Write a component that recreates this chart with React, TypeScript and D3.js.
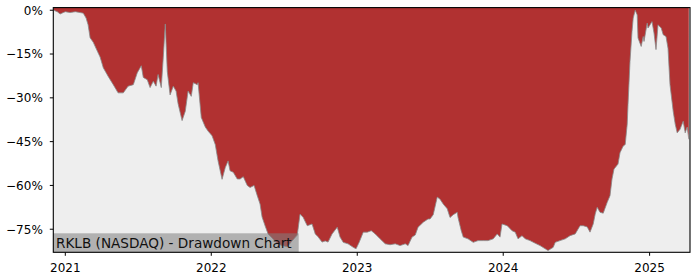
import React from "react";
import * as d3 from "d3";

const title = "RKLB (NASDAQ) - Drawdown Chart";

const dates = [
  "2020-12-03","2020-12-12","2020-12-19","2020-12-27","2021-01-01","2021-01-13","2021-01-26","2021-02-07","2021-02-15","2021-02-22",
  "2021-02-27","2021-03-04","2021-03-12","2021-03-22","2021-03-29","2021-04-06","2021-04-18","2021-05-01","2021-05-13","2021-05-26",
  "2021-06-07","2021-06-20","2021-06-30","2021-07-10","2021-07-15","2021-07-25","2021-08-01","2021-08-09","2021-08-16","2021-08-21",
  "2021-08-29","2021-09-03","2021-09-08","2021-09-13","2021-09-20","2021-09-28","2021-10-05","2021-10-10","2021-10-20","2021-10-28",
  "2021-11-04","2021-11-12","2021-11-17","2021-11-27","2021-11-29","2021-12-07","2021-12-17","2021-12-24","2022-01-03","2022-01-11",
  "2022-01-18","2022-01-28","2022-02-05","2022-02-12","2022-02-17","2022-02-25","2022-03-07","2022-03-14","2022-03-22","2022-04-01",
  "2022-04-08","2022-04-18","2022-04-26","2022-05-03","2022-05-08","2022-05-16","2022-05-23","2022-06-02","2022-06-15","2022-06-27",
  "2022-07-10","2022-07-22","2022-08-04","2022-08-11","2022-08-19","2022-08-29","2022-09-10","2022-09-18","2022-09-25","2022-10-05",
  "2022-10-13","2022-10-20","2022-10-30","2022-11-12","2022-11-19","2022-11-27","2022-12-09","2022-12-22","2022-12-29","2023-01-06",
  "2023-01-16","2023-01-26","2023-02-05","2023-02-15","2023-02-27","2023-03-12","2023-03-24","2023-04-06","2023-04-18","2023-05-01",
  "2023-05-08","2023-05-18","2023-05-26","2023-06-02","2023-06-15","2023-06-27","2023-07-02","2023-07-10","2023-07-20","2023-07-27",
  "2023-08-04","2023-08-14","2023-08-21","2023-08-29","2023-09-08","2023-09-10","2023-09-18","2023-09-23","2023-10-05","2023-10-18",
  "2023-10-30","2023-11-12","2023-11-24","2023-12-07","2023-12-17","2023-12-24","2023-12-29","2024-01-11","2024-01-23","2024-01-31",
  "2024-02-07","2024-02-17","2024-02-25","2024-03-08","2024-03-21","2024-04-02","2024-04-15","2024-04-22","2024-05-05","2024-05-10",
  "2024-05-22","2024-06-04","2024-06-16","2024-06-29","2024-07-11","2024-07-19","2024-07-29","2024-08-05","2024-08-13","2024-08-18",
  "2024-08-23","2024-08-30","2024-09-07","2024-09-17","2024-09-24","2024-09-29","2024-10-04","2024-10-14","2024-10-19","2024-10-27",
  "2024-11-01","2024-11-06","2024-11-08","2024-11-13","2024-11-18","2024-11-21","2024-11-26","2024-12-01","2024-12-03","2024-12-11",
  "2024-12-16","2024-12-18","2024-12-26","2024-12-28","2025-01-02","2025-01-07","2025-01-12","2025-01-17","2025-01-22","2025-01-30",
  "2025-02-04","2025-02-11","2025-02-16","2025-02-21","2025-03-01","2025-03-06","2025-03-11","2025-03-18","2025-03-26","2025-03-31",
  "2025-04-05","2025-04-09"
];

const drawdown = [
  0, -0.5, -1.3, -0.8, -0.5, -0.8, -0.5, -0.8, -1, -2.7,
  -5, -9.4, -11, -14, -16, -19.7, -22.6, -25.5, -28.3, -28.3,
  -26, -25.5, -21.4, -19, -23, -23.8, -26.5, -24.3, -26, -22,
  -26.5, -16, -4.7, -21, -29, -26, -27.7, -32, -37.8, -34.6,
  -27.7, -29.5, -24.8, -25.5, -24.8, -36.7, -40, -41.4, -43, -46,
  -51.6, -57.9, -53.9, -51.6, -55, -55.5, -57.8, -57.8, -57, -60,
  -60.7, -60, -63.5, -66.4, -70.8, -74, -76.6, -78, -80, -80.6,
  -81, -79, -77, -69.8, -71, -73.8, -73.2, -76.6, -77.6, -79.4,
  -79, -79.4, -76.6, -74.3, -77.7, -79.5, -80, -81.2, -81.7, -79.4,
  -76, -76, -75.5, -76.6, -78.3, -80, -80.3, -80, -80.6, -80,
  -80.6, -77.7, -77, -74.3, -72.6, -71.5, -71.5, -70, -64, -64.7,
  -66.4, -68, -71, -70, -69.2, -71, -75.5, -77.7, -78.3, -79.5,
  -78.9, -78.9, -78.9, -78.3, -76.6, -77.7, -73.2, -73.8, -75.5, -76,
  -78.3, -77.2, -78.3, -78.9, -79.8, -80.6, -81.7, -82.3, -81.2, -79.5,
  -78.9, -78.3, -77.2, -76.6, -73.8, -73.8, -74.2, -76, -73.2, -69.8,
  -67.5, -69.2, -69.5, -65.8, -63.5, -57.8, -54.4, -52.7, -48.8, -46.5,
  -46, -39, -32.3, -17.5, -7.3, -2.7, 0, -1.6, -9.5, -12.4,
  -9, -10.7, -4.4, -6.1, -5, -3.9, -7.8, -13.5, -5, -6.1,
  -8.4, -9, -13, -25.5, -34.6, -39, -42, -40.8, -38, -42,
  -40, -44.2
];

const yTicks = [0, -15, -30, -45, -60, -75];
const xTickYears = ["2021", "2022", "2023", "2024", "2025"];
const xDomain = ["2020-12-02", "2025-04-12"];
const yDomain = [-82.9, 0.9];

const W = 700, H = 280;
const M = { left: 53.3, right: 10, top: 7.6, bottom: 27.7 };
const RED = "#b13131";
const BG = "#eeeeee";

export default function App() {
  const parse = d3.utcParse("%Y-%m-%d");
  const pts = dates.map((d, i) => ({ t: parse(d) as Date, v: drawdown[i] }));
  const x = d3.scaleUtc().domain(xDomain.map((d) => parse(d) as Date)).range([M.left, W - M.right]);
  const y = d3.scaleLinear().domain(yDomain).range([H - M.bottom, M.top]);
  const top = M.top, bottom = H - M.bottom, left = M.left, right = W - M.right;

  const area = d3.area<{ t: Date; v: number }>().x((d) => x(d.t)).y0(top).y1((d) => y(d.v));
  const line = d3.line<{ t: Date; v: number }>().x((d) => x(d.t)).y((d) => y(d.v));
  const fmt = (v: number) => (v < 0 ? "\u2212" : "") + Math.abs(v) + "%";
  const font = "DejaVu Sans, sans-serif";

  return (
    <svg width={W} height={H} style={{ position: "absolute", left: 0, top: 0 }} xmlns="http://www.w3.org/2000/svg">
      <rect x={0} y={0} width={W} height={H} fill="#ffffff" />
      <defs>
        <clipPath id="plot">
          <rect x={left} y={top} width={right - left} height={bottom - top} />
        </clipPath>
      </defs>
      <rect x={left} y={top} width={right - left} height={bottom - top} fill={BG} />
      <g clipPath="url(#plot)">
        <path d={area(pts) || ""} fill={RED} />
        <path d={line(pts) || ""} fill="none" stroke="#8a8a8a" strokeWidth={1} strokeOpacity={0.8} />
      </g>
      <rect x={left} y={233.3} width={298.7 - left} height={bottom - 233.3} fill="#7f7f7f" fillOpacity={0.55} />
      <text x={56} y={247.8} fontFamily={font} fontSize={13.6} fill="#111">{title}</text>
      <rect x={left} y={top} width={right - left} height={bottom - top} fill="none" stroke="#000" strokeWidth={1.1} />
      {yTicks.map((t) => (
        <g key={t}>
          <line x1={left - 3.5} x2={left} y1={y(t)} y2={y(t)} stroke="#000" strokeWidth={1} />
          <text x={left - 10.5} y={y(t)} dy="0.36em" textAnchor="end" fontFamily={font} fontSize={12} fill="#000">{fmt(t)}</text>
        </g>
      ))}
      {xTickYears.map((yr) => {
        const xx = x(parse(yr + "-01-01") as Date);
        return (
          <g key={yr}>
            <line x1={xx} x2={xx} y1={bottom} y2={bottom + 3.5} stroke="#000" strokeWidth={1} />
            <text x={xx} y={272} textAnchor="middle" fontFamily={font} fontSize={12} fill="#000">{yr}</text>
          </g>
        );
      })}
    </svg>
  );
}
